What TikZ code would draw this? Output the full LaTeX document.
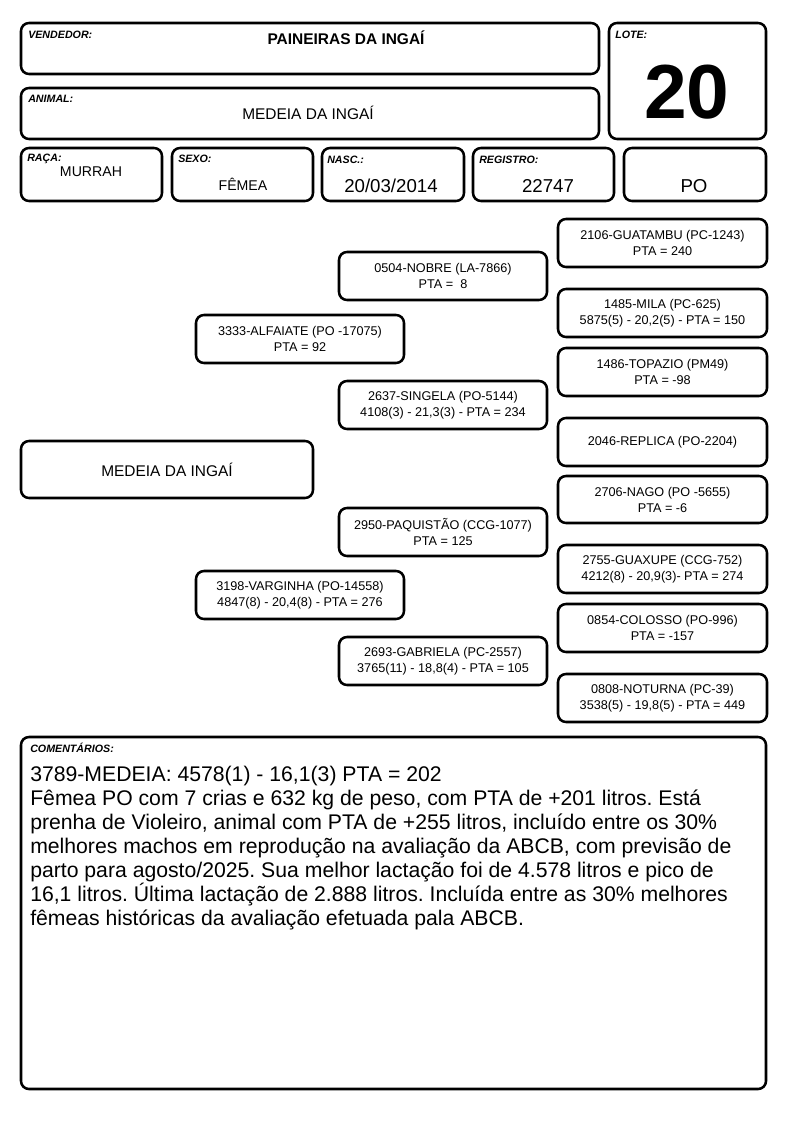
\documentclass[tikz,border=0pt]{standalone}
\usepackage{fontspec}
\setmainfont{Liberation Sans}
\frenchspacing
\tikzset{
  bx/.style={draw=black, line width=1.9pt, rounded corners=6pt, fill=white, inner sep=0pt, align=center},
  lbl/.style={anchor=west, inner sep=0pt, font=\fontsize{8}{9}\selectfont\bfseries\itshape},
  val/.style={inner sep=0pt, font=\fontsize{11.6}{13}\selectfont},
  big/.style={inner sep=0pt, font=\fontsize{14}{16}\selectfont},
  ped/.style={font=\fontsize{9.5}{12}\selectfont},
}
\newcommand\mkbox[7][]{%
  \node[bx,#1,minimum width={(#5-#3)*0.75pt},minimum height={(#6-#4)*0.75pt}] (#2) at ({(#3+#5)/2},{(#4+#6)/2}) {#7};}
\begin{document}
\begin{tikzpicture}[x=0.75pt,y=-0.75pt]
\useasboundingbox (0,0) rectangle (794,1123);
% header
\mkbox{vend}{21}{23}{599}{74}{}
\node[lbl] (vendl) at (28,35) {VENDEDOR:};
\node[val,font=\fontsize{11.6}{13}\selectfont\bfseries] (vendv) at (346,38) {PAINEIRAS DA INGAÍ};
\mkbox{anim}{21}{88}{599}{139}{}
\node[lbl] (animl) at (28,99) {ANIMAL:};
\node[val] (animv) at (308,113) {MEDEIA DA INGAÍ};
\mkbox{lote}{609}{23}{766}{139}{}
\node[lbl] (lotel) at (615,35) {LOTE:};
\node[inner sep=0pt,font=\fontsize{57.5}{60}\selectfont\bfseries] (lotev) at (687,92) {20};
% row 3
\mkbox{raca}{21}{148}{162}{201}{}
\node[lbl] (racal) at (27,159) {RAÇA:};
\node[inner sep=0pt,font=\fontsize{10.6}{12}\selectfont] (racav) at (91,172) {MURRAH};
\mkbox{sexo}{172}{148}{313}{201}{}
\node[lbl] (sexol) at (178,159) {SEXO:};
\node[inner sep=0pt,font=\fontsize{10.6}{12}\selectfont] (sexov) at (243,184) {FÊMEA};
\mkbox{nasc}{322}{148}{464}{201}{}
\node[lbl] (nascl) at (327,160) {NASC.:};
\node[big] (nascv) at (391,186) {20/03/2014};
\mkbox{reg}{473}{148}{614}{201}{}
\node[lbl] (regl) at (479,160) {REGISTRO:};
\node[big] (regv) at (548,186) {22747};
\mkbox{cat}{624}{148}{766}{201}{}
\node[big] (catv) at (694,186) {PO};
% pedigree
\mkbox[ped]{p1}{558}{219}{767}{267}{2106-GUATAMBU (PC-1243)\\PTA = 240}
\mkbox[ped]{g1}{339}{252}{547}{300}{0504-NOBRE (LA-7866)\\PTA = \ 8}
\mkbox[ped]{p2}{558}{289}{767}{337}{1485-MILA (PC-625)\\5875(5) - 20,2(5) - PTA = 150}
\mkbox[ped]{s1}{196}{315}{404}{363}{3333-ALFAIATE (PO -17075)\\PTA = 92}
\mkbox[ped]{p3}{558}{348}{767}{396}{1486-TOPAZIO (PM49)\\PTA = -98}
\mkbox[ped]{g2}{339}{381}{547}{429}{2637-SINGELA (PO-5144)\\4108(3) - 21,3(3) - PTA = 234}
\mkbox[ped]{p4}{558}{418}{767}{466}{2046-REPLICA (PO-2204)}
\mkbox[font=\fontsize{11.6}{13}\selectfont]{main}{21}{441}{313}{498}{MEDEIA DA INGAÍ}
\mkbox[ped]{p5}{558}{476}{767}{523}{2706-NAGO (PO -5655)\\PTA = -6}
\mkbox[ped]{g3}{339}{508}{547}{556}{2950-PAQUISTÃO (CCG-1077)\\PTA = 125}
\mkbox[ped]{p6}{558}{545}{767}{593}{2755-GUAXUPE (CCG-752)\\4212(8) - 20,9(3)- PTA = 274}
\mkbox[ped]{s2}{196}{571}{404}{619}{3198-VARGINHA (PO-14558)\\4847(8) - 20,4(8) - PTA = 276}
\mkbox[ped]{p7}{558}{604}{767}{652}{0854-COLOSSO (PO-996)\\PTA = -157}
\mkbox[ped]{g4}{339}{637}{547}{685}{2693-GABRIELA (PC-2557)\\3765(11) - 18,8(4) - PTA = 105}
\mkbox[ped]{p8}{558}{674}{767}{722}{0808-NOTURNA (PC-39)\\3538(5) - 19,8(5) - PTA = 449}
% comments
\mkbox{com}{21}{737}{766}{1089}{}
\node[lbl] (coml) at (30,748) {COMENTÁRIOS:};
\node[anchor=north west,inner sep=0pt,align=left,font=\fontsize{15.9}{18}\selectfont] (comv) at (30,766)
{3789-MEDEIA: 4578(1) - 16,1(3) PTA = 202\\
Fêmea PO com 7 crias e 632 kg de peso, com PTA de +201 litros. Está\\
prenha de Violeiro, animal com PTA de +255 litros, incluído entre os 30\%\\
melhores machos em reprodução na avaliação da ABCB, com previsão de\\
parto para agosto/2025. Sua melhor lactação foi de 4.578 litros e pico de\\
16,1 litros. Última lactação de 2.888 litros. Incluída entre as 30\% melhores\\
fêmeas históricas da avaliação efetuada pala ABCB.};
\end{tikzpicture}
\end{document}
